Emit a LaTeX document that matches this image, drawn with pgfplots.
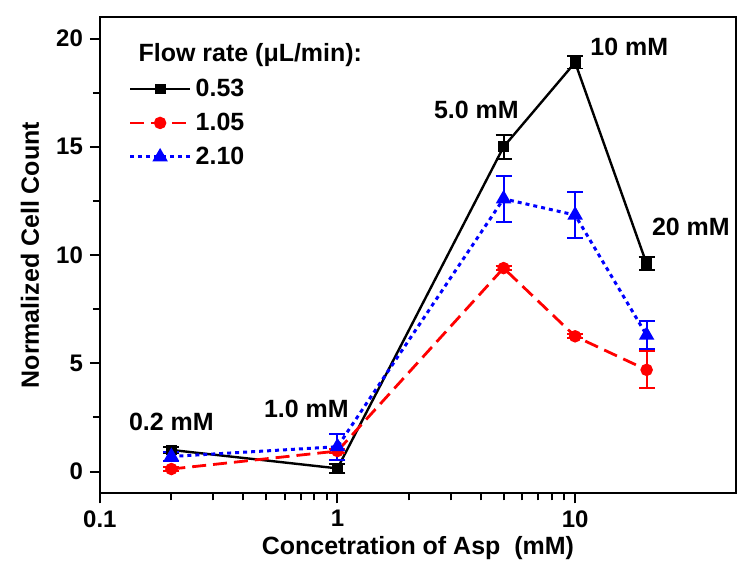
\documentclass[border=0pt]{standalone}
\usepackage{fontspec}
\setmainfont{Liberation Sans}
\usepackage{pgfplots}
\pgfplotsset{compat=1.18}

\begin{document}
\begin{tikzpicture}
\begin{axis}[
  scale only axis,
  width=318.5pt,
  height=238.5pt,
  xmode=log,
  xmin=0.1, xmax=47.5,
  ymin=-1, ymax=21,
  xtick={0.1,1,10},
  xticklabels={0.1,1,10},
  ytick={0,5,10,15,20},
  minor ytick={2.5,7.5,12.5,17.5},
  xtick pos=bottom,
  ytick pos=left,
  tick align=outside,
  major tick length=5pt,
  minor tick length=3.5pt,
  every tick/.style={line width=1pt, black},
  axis line style={line width=1.1pt},
  /pgf/number format/assume math mode=true,
  ticklabel style={font=\bfseries\fontsize{12}{14}\selectfont},
  xlabel={Concetration of Asp~~(mM)},
  ylabel={Normalized Cell Count},
  label style={font=\bfseries\fontsize{12.5}{14}\selectfont},
  xlabel style={at={(axis description cs:0.5,-0.115)}, anchor=center},
  ylabel style={at={(axis description cs:-0.11,0.5)}, anchor=center},
  clip=false,
  legend style={
    draw=none, fill=none,
    at={(axis description cs:0.035,0.888)}, anchor=north west,
    font=\bfseries\fontsize{12.5}{14}\selectfont,
    row sep=2.8pt,
    nodes={inner sep=2pt},
  },
  legend cell align=left,
  legend image code/.code={
    \draw[mark repeat=2,mark phase=2] plot coordinates {(0cm,0cm) (0.53cm,0cm) (1.06cm,0cm)};
  },
  error bars/error mark=|,
]

% flow rate 0.53 uL/min
\addplot[black, line width=1.2pt, mark=square*, mark size=2.1pt,
  error bars/.cd, y dir=both, y explicit,
  error bar style={line width=1pt, solid},
  error mark options={line width=1pt, mark size=4pt, solid}]
  coordinates {
    (0.2, 1.00) +- (0,0.15)
    (1,   0.15) +- (0,0.20)
    (5,  15.00) +- (0,0.55)
    (10, 18.90) +- (0,0.28)
    (20,  9.60) +- (0,0.30)
  };
\addlegendentry{0.53}

% flow rate 1.05 uL/min
\addplot[red, line width=1.4pt, dash pattern=on 7pt off 3.5pt,
  mark=*, mark size=2.4pt, mark options={solid},
  error bars/.cd, y dir=both, y explicit,
  error bar style={line width=1pt, solid},
  error mark options={line width=1pt, mark size=4pt, solid}]
  coordinates {
    (0.2, 0.12) +- (0,0.10)
    (1,   0.95) +- (0,0.10)
    (5,   9.40) +- (0,0.10)
    (10,  6.25) +- (0,0.10)
    (20,  4.70) +- (0,0.85)
  };
\addlegendentry{1.05}

% flow rate 2.10 uL/min
\addplot[blue, line width=1.5pt, dash pattern=on 2pt off 2pt,
  mark=triangle*, mark size=3pt, mark options={solid},
  error bars/.cd, y dir=both, y explicit,
  error bar style={line width=1pt, solid},
  error mark options={line width=1pt, mark size=4pt, solid}]
  coordinates {
    (0.2, 0.70) +- (0,0.20)
    (1,   1.15) +- (0,0.60)
    (5,  12.60) +- (0,1.05)
    (10, 11.85) +- (0,1.05)
    (20,  6.30) +- (0,0.65)
  };
\addlegendentry{2.10}

\node[font=\bfseries\fontsize{12.5}{14}\selectfont, anchor=west]
  at (axis description cs:0.05,0.92) {Flow rate (μL/min):};

\node[font=\bfseries\fontsize{12.5}{14}\selectfont] at (axis cs:0.2,2.3) {0.2 mM};
\node[font=\bfseries\fontsize{12.5}{14}\selectfont] at (axis cs:0.74,2.9) {1.0 mM};
\node[font=\bfseries\fontsize{12.5}{14}\selectfont] at (axis cs:3.84,16.7) {5.0 mM};
\node[font=\bfseries\fontsize{12.5}{14}\selectfont] at (axis cs:16.9,19.6) {10 mM};
\node[font=\bfseries\fontsize{12.5}{14}\selectfont] at (axis cs:30.7,11.3) {20 mM};
\end{axis}
\path ([shift={(-50pt,-36pt)}]current axis.south west) ([yshift=8.5pt]current axis.north east);
\end{tikzpicture}
\end{document}
